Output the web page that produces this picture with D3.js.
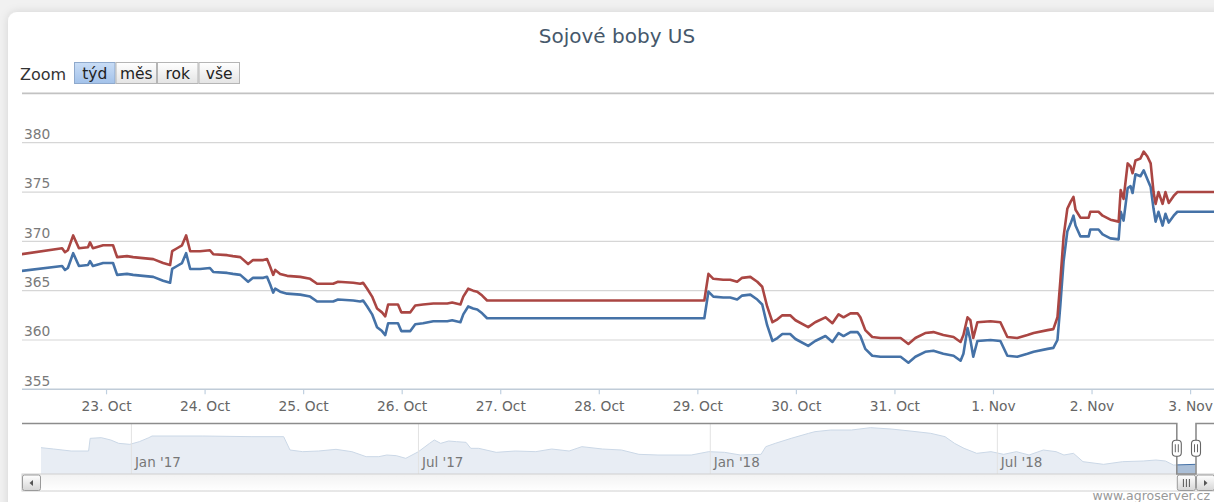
<!DOCTYPE html>
<html><head><meta charset="utf-8">
<script src="https://cdn.jsdelivr.net/npm/d3@7"></script>
<style>
html,body{margin:0;padding:0;overflow:hidden;background:#fff;}
svg{display:block;font-family:"DejaVu Sans",sans-serif;}
</style></head><body>
<svg id="chart" width="1214" height="502"></svg>
<script>
// ---------------- DATA ----------------
const titleText = "Sojové boby US";
const zoomLabel = "Zoom";
const zoomButtons = ["týd", "měs", "rok", "vše"];
const selectedButton = "týd";
const creditsText = "www.agroserver.cz";

const baseDate = "2018-10-22T00:00:00Z";       // hours below are counted from here
const viewStart = "2018-10-22T03:32:00Z";
const viewEnd = "2018-11-03T06:04:00Z";

const hours = [3.5,13.3,14.0,14.7,16.0,17.4,19.6,20.1,20.8,23.3,25.7,26.7,29.1,30.6,33.0,35.5,37.9,39.6,40.1,41.3,
  42.5,43.5,44.5,46.9,49.3,50.1,53.5,54.9,56.7,58.6,59.8,62.3,63.2,64.0,64.7,65.2,66.4,68.1,71.3,73.7,
  75.4,79.3,80.5,84.2,85.9,86.6,87.6,88.8,90.0,91.2,92.0,92.7,95.1,95.9,98.1,99.3,101.2,103.7,107.1,108.3,
  110.3,111.0,112.2,113.4,114.4,115.6,116.8,169.7,170.7,171.9,174.3,176.0,177.7,178.9,180.9,182.6,183.8,185.0,186.3,187.5,
  188.7,190.6,191.9,195.0,196.7,199.2,200.9,202.4,203.6,205.3,207.0,207.7,208.9,210.6,212.6,217.5,219.4,221.1,223.5,225.5,
  227.9,230.4,232.1,232.8,233.8,234.5,235.2,236.2,239.4,241.8,243.5,245.9,248.4,249.9,253.3,254.7,255.7,256.4,257.2,258.1,
  258.9,259.6,260.1,261.3,263.3,263.7,265.7,266.7,268.6,270.6,271.1,271.8,272.8,273.5,274.0,274.7,275.9,276.7,277.6,278.4,
  279.1,279.6,280.3,281.3,282.0,282.8,284.0,284.9,294.1];

const redValues = [368.7,369.3,368.9,369.1,370.6,369.3,369.4,369.9,369.3,369.6,369.6,368.4,368.5,368.4,368.3,368.2,367.8,367.6,369.0,369.3,
  369.6,370.6,369.0,369.0,369.1,368.7,368.6,368.5,368.4,367.7,368.1,368.1,368.2,367.4,366.6,367.1,366.7,366.5,366.4,366.2,
  365.7,365.7,365.9,365.8,365.7,365.8,365.2,364.4,363.2,362.8,362.4,363.6,363.6,362.8,362.8,363.5,363.6,363.7,363.7,363.8,
  363.6,364.4,365.2,365.0,364.9,364.5,364.0,364.0,366.7,366.2,366.1,366.1,365.9,366.3,366.4,365.9,365.4,363.4,361.8,362.1,
  362.5,362.5,362.0,361.3,361.8,362.3,361.7,362.6,362.3,362.7,362.7,362.3,361.0,360.3,360.2,360.2,359.6,360.2,360.7,360.8,
  360.5,360.3,359.8,360.5,362.3,362.0,360.2,361.8,361.9,361.8,360.3,360.2,360.5,360.7,361.0,361.1,362.3,366.0,370.5,373.3,
  374.0,374.5,373.2,372.4,372.4,373.0,373.0,372.6,372.2,372.0,375.2,374.3,377.9,377.6,376.9,378.2,378.4,379.1,378.6,377.9,
  375.0,373.8,375.0,373.8,375.0,373.9,374.6,375.0,375.0];

const blueValues = [367.0,367.5,367.1,367.3,368.8,367.5,367.6,368.0,367.5,367.8,367.8,366.6,366.7,366.6,366.5,366.4,366.0,365.8,367.2,367.5,
  367.8,368.8,367.2,367.2,367.3,366.9,366.8,366.7,366.6,365.9,366.3,366.3,366.4,365.6,364.8,365.2,364.9,364.7,364.6,364.4,
  363.9,363.9,364.1,364.0,363.9,364.0,363.4,362.6,361.3,360.9,360.5,361.7,361.7,360.9,360.9,361.6,361.7,361.9,361.9,362.0,
  361.8,362.6,363.4,363.2,363.1,362.7,362.2,362.2,364.9,364.4,364.3,364.3,364.1,364.5,364.6,364.1,363.6,361.5,359.9,360.2,
  360.6,360.6,360.1,359.4,359.9,360.4,359.8,360.7,360.4,360.8,360.8,360.4,359.1,358.4,358.3,358.3,357.7,358.3,358.8,358.9,
  358.6,358.4,357.9,358.6,361.2,360.0,358.3,359.9,360.0,359.9,358.4,358.3,358.6,358.8,359.1,359.2,360.0,363.5,368.0,371.0,
  371.8,372.6,371.6,370.5,370.5,371.2,371.2,370.7,370.3,370.2,373.0,372.1,375.4,375.6,374.9,376.8,376.6,377.2,376.3,375.5,
  373.3,372.0,373.0,371.6,372.8,371.9,372.6,373.0,373.0];

const yTickValues = [355, 360, 365, 370, 375, 380, 385];

const navDates = ["2016-11-05","2016-11-13","2016-11-24","2016-12-05","2016-12-06","2016-12-13","2016-12-19","2016-12-24","2016-12-31","2017-01-06",
  "2017-01-12","2017-01-14","2017-02-15","2017-03-18","2017-04-07","2017-04-11","2017-04-19","2017-04-29","2017-05-10","2017-05-20",
  "2017-05-29","2017-06-06","2017-06-11","2017-06-17","2017-06-23","2017-06-25","2017-07-01","2017-07-08","2017-07-11","2017-07-15",
  "2017-07-20","2017-07-25","2017-07-31","2017-08-03","2017-08-08","2017-08-19","2017-08-31","2017-09-13","2017-09-23","2017-10-04",
  "2017-10-12","2017-10-25","2017-11-06","2017-11-17","2017-11-29","2017-12-20","2017-12-31","2018-01-10","2018-01-20","2018-02-02",
  "2018-02-05","2018-02-11","2018-02-21","2018-03-04","2018-03-08","2018-03-18","2018-03-31","2018-04-12","2018-04-25","2018-05-07",
  "2018-05-20","2018-05-29","2018-06-04","2018-06-10","2018-06-18","2018-06-27","2018-07-05","2018-07-13","2018-07-21","2018-07-30",
  "2018-08-07","2018-08-12","2018-08-18","2018-08-24","2018-09-06","2018-09-18","2018-10-01","2018-10-09","2018-10-15","2018-10-20",
  "2018-11-03"];
const navValues = [386.0,384.0,381.0,381.0,400.0,401.0,397.5,392.5,391.0,395.0,
  401.0,403.5,403.5,402.5,402.5,382.5,380.0,381.0,383.5,380.0,
  372.5,372.5,375.0,374.0,370.0,372.5,380.0,392.5,397.5,392.5,
  396.0,395.0,394.0,385.0,385.0,379.0,381.0,380.0,384.0,381.0,
  387.5,384.0,382.5,376.0,375.0,375.0,380.0,379.0,375.0,376.0,
  387.5,392.5,400.0,407.5,410.0,412.5,412.5,416.0,414.0,411.0,
  407.5,402.5,392.5,385.0,377.5,380.0,376.0,380.0,375.0,382.5,
  380.0,375.0,377.5,365.0,361.0,365.0,366.0,367.5,366.0,360.0,
  361.0];
const navYDomain = [346.5, 421.5];

// ---------------- DRAWING ----------------
const W = 1214, H = 502;
const svg = d3.select("#chart");
const defs = svg.append("defs");

const f = defs.append("filter").attr("id","cardShadow").attr("x","-5%").attr("y","-5%").attr("width","110%").attr("height","110%");
f.append("feDropShadow").attr("dx",0).attr("dy",0).attr("stdDeviation",4).attr("flood-color","#000").attr("flood-opacity",0.13);

function grad(id, c1, c2) {
  const g = defs.append("linearGradient").attr("id", id).attr("x1",0).attr("y1",0).attr("x2",0).attr("y2",1);
  g.append("stop").attr("offset","0%").attr("stop-color",c1);
  g.append("stop").attr("offset","100%").attr("stop-color",c2);
}
grad("btnGrad", "#ffffff", "#e4e4e4");
grad("selGrad", "#c9ddf6", "#a3c2ea");
grad("trackGrad", "#f2f2f2", "#ffffff");
grad("barGrad", "#ffffff", "#d6d6d6");

svg.append("rect").attr("width",W).attr("height",H).attr("fill","#f1f1f1");
svg.append("rect").attr("x",8).attr("y",12).attr("width",W+40).attr("height",H+40).attr("rx",9)
  .attr("fill","#fff").attr("filter","url(#cardShadow)");

// title
svg.append("text").attr("x",617).attr("y",43).attr("text-anchor","middle")
  .attr("font-size",20).attr("fill","#46586b").text(titleText);

// range selector
svg.append("text").attr("x",20).attr("y",80).attr("font-size",16).attr("fill","#333").text(zoomLabel);
const btnX = d3.scaleBand().domain(zoomButtons).range([74, 240]).padding(0);
const btn = svg.append("g").selectAll("g").data(zoomButtons).join("g");
btn.append("rect").attr("x", d => btnX(d) + 0.5).attr("y", 62.5).attr("width", btnX.bandwidth() - 1).attr("height", 21)
  .attr("fill", d => d === selectedButton ? "url(#selGrad)" : "url(#btnGrad)")
  .attr("stroke", d => d === selectedButton ? "#8fa9cc" : "#b5b5b5").attr("stroke-width",1);
btn.append("text").attr("x", d => btnX(d) + btnX.bandwidth()/2).attr("y", 79).attr("text-anchor","middle")
  .attr("font-size",15.5).attr("fill","#222").text(d => d);

// main plot
const plot = {left: 22, right: 1215, top: 93.4, bottom: 389.3};
const base = new Date(baseDate).getTime();
const toDate = h => new Date(base + h * 3600000);
const x = d3.scaleUtc().domain([new Date(viewStart), new Date(viewEnd)]).range([plot.left, plot.right]);
const y = d3.scaleLinear().domain([355, 385]).range([plot.bottom, plot.top]);

defs.append("clipPath").attr("id","plotClip").append("rect")
  .attr("x",plot.left).attr("y",plot.top - 5).attr("width",plot.right - plot.left).attr("height",plot.bottom - plot.top + 5);

const grid = svg.append("g");
grid.selectAll("line").data(yTickValues.filter(v => v !== 355)).join("line")
  .attr("x1",plot.left).attr("x2",plot.right).attr("y1",d => y(d)).attr("y2",d => y(d))
  .attr("stroke", d => d === 385 ? "#c2c2c2" : "#d6d6d6").attr("stroke-width", d => d === 385 ? 1.6 : 1.2);

svg.append("g").selectAll("text").data(yTickValues.filter(v => v !== 385)).join("text")
  .attr("x",24).attr("y",d => y(d) - 3.6).attr("font-size",13.8).attr("fill","#7a7a7a").text(d => d);

// x axis
const xAxis = d3.axisBottom(x).ticks(d3.utcDay.every(1)).tickFormat(d3.utcFormat("%-d. %b")).tickSize(5).tickPadding(4);
const gx = svg.append("g").attr("transform",`translate(0,${plot.bottom})`).call(xAxis);
gx.select(".domain").remove();
gx.selectAll(".tick line").attr("stroke","#c0d0e0").attr("stroke-width",1.2);
gx.selectAll(".tick text").attr("font-size",13.8).attr("fill","#666").attr("font-family","DejaVu Sans").attr("dy","0.95em");
svg.append("line").attr("x1",plot.left).attr("x2",plot.right).attr("y1",plot.bottom).attr("y2",plot.bottom)
  .attr("stroke","#c0ccd8").attr("stroke-width",1.5);

// series
const line = vals => d3.line().x((d,i) => x(toDate(hours[i]))).y(d => y(d))(vals);
const series = svg.append("g").attr("clip-path","url(#plotClip)");
series.append("path").attr("d", line(blueValues)).attr("fill","none").attr("stroke","#4572A7")
  .attr("stroke-width",2.6).attr("stroke-linejoin","round");
series.append("path").attr("d", line(redValues)).attr("fill","none").attr("stroke","#AA4643")
  .attr("stroke-width",2.6).attr("stroke-linejoin","round");

// navigator
const nav = {left: 41, right: 1196, top: 423.5, bottom: 474, btn: 19};
const navParsed = navDates.map(d => new Date(d + "T00:00:00Z"));
const xn = d3.scaleUtc().domain([navParsed[0], new Date(viewEnd)]).range([nav.left, nav.right]);
const yn = d3.scaleLinear().domain(navYDomain).range([nav.bottom, nav.top + 0.5]);
const hL = xn(new Date(viewStart)), hR = xn(new Date(viewEnd));

const area = d3.area().x((d,i) => xn(navParsed[i])).y0(nav.bottom).y1(d => yn(d));
const lineN = d3.line().x((d,i) => xn(navParsed[i])).y(d => yn(d));
svg.append("path").attr("d", area(navValues)).attr("fill","#4572A7").attr("fill-opacity",0.45);
svg.append("path").attr("d", lineN(navValues)).attr("fill","none").attr("stroke","#4572A7").attr("stroke-width",1);
// mask over unselected part
svg.append("rect").attr("x",nav.left - nav.btn).attr("y",nav.top).attr("width",hL - nav.left + nav.btn).attr("height",nav.bottom - nav.top)
  .attr("fill","#fff").attr("fill-opacity",0.72);
svg.append("rect").attr("x",hR).attr("y",nav.top).attr("width",Math.max(0, plot.right - hR)).attr("height",nav.bottom - nav.top)
  .attr("fill","#fff").attr("fill-opacity",0.72);

const navTicks = xn.ticks(d3.utcMonth.every(6));
svg.append("g").selectAll("line").data(navTicks).join("line")
  .attr("x1",d => xn(d)).attr("x2",d => xn(d)).attr("y1",nav.top).attr("y2",nav.bottom)
  .attr("stroke","#e2e2e2").attr("stroke-width",1);
svg.append("g").selectAll("text").data(navTicks).join("text")
  .attr("x",d => xn(d) + 3.5).attr("y",467).attr("font-size",13.5).attr("fill","#777")
  .text(d3.utcFormat("%b '%y"));

// scrollbar
const sb = {top: nav.bottom, bottom: 491};
svg.append("rect").attr("x",nav.left - nav.btn).attr("y",sb.top).attr("width",plot.right - nav.left + nav.btn).attr("height",sb.bottom - sb.top)
  .attr("fill","url(#trackGrad)").attr("stroke","#d0d0d0").attr("stroke-width",1);
function sbButton(x0, dir) {
  svg.append("rect").attr("x",x0 + 0.5).attr("y",sb.top + 1).attr("width",nav.btn - 1).attr("height",sb.bottom - sb.top - 1.5).attr("rx",2)
    .attr("fill","url(#barGrad)").attr("stroke","#9a9a9a").attr("stroke-width",1);
  const cx = x0 + nav.btn/2, cy = (sb.top + sb.bottom)/2 + 0.5;
  const p = dir < 0 ? `M${cx+1.5},${cy-3}L${cx-2},${cy}L${cx+1.5},${cy+3}Z` : `M${cx-1.5},${cy-3}L${cx+2},${cy}L${cx-1.5},${cy+3}Z`;
  svg.append("path").attr("d",p).attr("fill","#555");
}
sbButton(nav.left - nav.btn, -1);
sbButton(nav.right, 1);
svg.append("rect").attr("x",hL + 0.5).attr("y",sb.top + 1).attr("width",hR - hL - 1).attr("height",sb.bottom - sb.top - 1.5).attr("rx",2)
  .attr("fill","url(#barGrad)").attr("stroke","#9a9a9a").attr("stroke-width",1);
[-3, 0, 3].forEach(o => {
  const cx = (hL + hR)/2 + o;
  svg.append("line").attr("x1",cx).attr("x2",cx).attr("y1",sb.top + 5).attr("y2",sb.bottom - 4).attr("stroke","#555").attr("stroke-width",1);
});

// navigator outline
svg.append("path").attr("d",`M${nav.left - nav.btn},${nav.top}H${hL}V${nav.bottom}H${hR}V${nav.top}H${plot.right}`)
  .attr("fill","none").attr("stroke","#8c8c8c").attr("stroke-width",1.6);

// handles
const hy = (nav.top + nav.bottom)/2 - 0.5;
[hL, hR].forEach(hx => {
  svg.append("rect").attr("x",hx - 4.5).attr("y",hy - 8).attr("width",9).attr("height",16).attr("rx",3.5)
    .attr("fill","#fff").attr("stroke","#666").attr("stroke-width",1.1);
  [-1.5, 1.5].forEach(o => svg.append("line").attr("x1",hx + o).attr("x2",hx + o).attr("y1",hy - 4).attr("y2",hy + 4)
    .attr("stroke","#666").attr("stroke-width",1));
});

// credits
svg.append("text").attr("x",1210).attr("y",500).attr("text-anchor","end").attr("font-size",12.5).attr("fill","#999").text(creditsText);
</script>
</body></html>
